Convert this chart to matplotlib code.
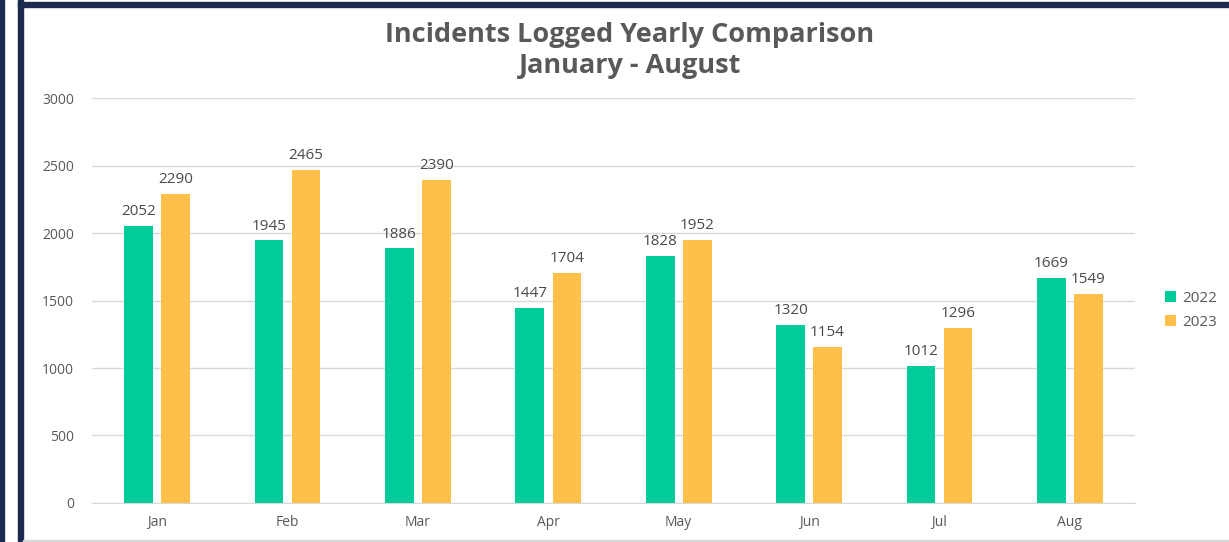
import numpy as np
import matplotlib.pyplot as plt
from matplotlib.patches import Rectangle

months = ['Jan', 'Feb', 'Mar', 'Apr', 'May', 'Jun', 'Jul', 'Aug']
y2022 = [2052, 1945, 1886, 1447, 1828, 1320, 1012, 1669]
y2023 = [2290, 2465, 2390, 1704, 1952, 1154, 1296, 1549]
series_names = ['2022', '2023']

plt.rcParams['font.family'] = ['Open Sans', 'DejaVu Sans']

fig = plt.figure(figsize=(12.29, 5.42), dpi=100)
ax = fig.add_axes([0.0749, 0.072, 0.8486, 0.747])

x = np.arange(len(months))
w = 0.22
off = 0.142
b1 = ax.bar(x - off, y2022, w, color='#00CC99', label=series_names[0], zorder=3)
b2 = ax.bar(x + off, y2023, w, color='#FFC04A', label=series_names[1], zorder=3)

for bars in (b1, b2):
    ax.bar_label(bars, padding=5, fontsize=11, color='#4a4a4a')

ax.set_xlim(-0.5, len(months) - 0.5)
ax.set_ylim(0, 3000)
ax.set_yticks(np.arange(0, 3001, 500))
ax.set_xticks(x)
ax.set_xticklabels(months)
ax.grid(axis='y', color='#d9d9d9', lw=1, zorder=0)
for s in ['top', 'right', 'left']:
    ax.spines[s].set_visible(False)
ax.spines['bottom'].set_color('#d9d9d9')
ax.tick_params(axis='both', length=0, labelsize=10, colors='#595959')
ax.tick_params(axis='x', pad=9)
ax.tick_params(axis='y', pad=13)

fig.text(0.5126, 0.936, 'Incidents Logged Yearly Comparison', ha='center', va='center',
         fontsize=19.5, fontweight='bold', color='#595959')
fig.text(0.5126, 0.879, 'January - August', ha='center', va='center',
         fontsize=19.5, fontweight='bold', color='#595959')

leg = fig.legend(handles=[b1, b2], loc='center left', bbox_to_anchor=(0.937, 0.427),
                 frameon=False, fontsize=11, handlelength=0.7, handleheight=0.7,
                 handletextpad=0.4, labelspacing=0.6)
for t in leg.get_texts():
    t.set_color('#595959')

# frame around the panel
navy = '#1b2a4e'
fig.patches.append(Rectangle((0, 0), 4 / 1229, 1, transform=fig.transFigure, color=navy, zorder=0))
fig.patches.append(Rectangle((18 / 1229, 0), 5 / 1229, 1, transform=fig.transFigure, color=navy, zorder=0))
fig.patches.append(Rectangle((18 / 1229, 1 - 7 / 542), 1 - 18 / 1229, 5 / 542, transform=fig.transFigure, color=navy, zorder=0))
fig.patches.append(Rectangle((23 / 1229, 1 / 542), 1, 1.5 / 542, transform=fig.transFigure, color='#d9d9d9', zorder=0))

fig.savefig('out.png', dpi=100)
